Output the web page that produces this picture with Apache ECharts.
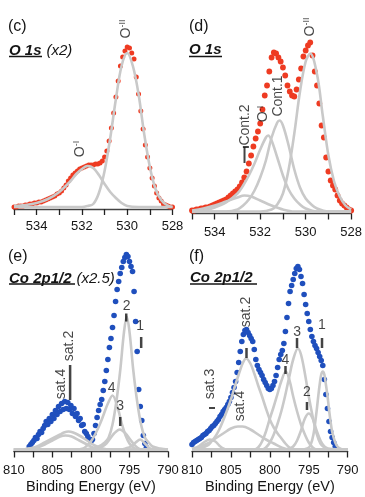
<!DOCTYPE html>
<html><head><meta charset="utf-8">
<script src="https://cdn.jsdelivr.net/npm/echarts@6/dist/echarts.min.js"></script>
<style>html,body{margin:0;padding:0;background:#fff}#c{width:365px;height:497px}</style>
</head><body><div id="c"></div>
<script>
const FONT = '"Liberation Sans", Arial, Helvetica, sans-serif';

// ---------- Panel (c): O 1s (x2) ----------
const cData = [[535.0,2],[534.9,2],[534.8,3],[534.7,3],[534.6,3],[534.5,4],[534.4,4],[534.3,5],[534.2,5],[534.1,6],[534.0,6],[533.9,7],[533.8,7],[533.7,8],[533.6,9],[533.5,10],[533.4,11],[533.3,12],[533.2,13],[533.1,15],[533.0,16],[532.9,18],[532.8,21],[532.7,24],[532.6,28],[532.5,31],[532.4,34],[532.3,36],[532.2,38],[532.1,40],[532.0,41],[531.9,42],[531.8,43],[531.7,44],[531.6,44],[531.5,44],[531.4,45],[531.3,45],[531.2,46],[531.1,48],[531.0,52],[530.9,58],[530.8,68],[530.7,81],[530.6,96],[530.5,112],[530.4,128],[530.3,143],[530.2,152],[530.1,158],[530.0,162],[529.9,161],[529.8,156],[529.7,150],[529.6,132],[529.5,115],[529.4,98],[529.3,80],[529.2,64],[529.1,52],[529.0,41],[528.9,31],[528.8,23],[528.7,16],[528.6,11],[528.5,8],[528.4,5],[528.3,4],[528.2,3],[528.1,2],[528.0,2]];
const cFitOII = [[535,2],[532.5,2],[532.0,2],[531.75,3],[531.5,5],[531.25,16],[531.0,38],[530.75,71],[530.5,110],[530.25,143],[530.0,156],[529.75,143],[529.5,115],[529.25,75],[529.0,42],[528.75,20],[528.5,9],[528.25,4],[528.0,2]];
const cFitOI = [[535,3],[534.5,4],[534.0,6],[533.5,10],[533.0,17],[532.5,28],[532.25,35],[532.0,40],[531.75,43],[531.5,41],[531.25,34],[531.0,25],[530.75,17],[530.5,11],[530.25,6],[530.0,3],[529.5,2],[528,2]];
const cLabels = [[530.05,180,'{o|O}{s|-II}',90],[532.08,60,'{o|O}{s|-I}',90]];
const cMarks = [];

// ---------- Panel (d): O 1s ----------
const dData = [[535.0,3],[534.9,3],[534.8,4],[534.7,4],[534.6,5],[534.5,5],[534.4,6],[534.3,6],[534.2,7],[534.1,8],[534.0,9],[533.9,10],[533.8,11],[533.7,12],[533.6,13],[533.5,14],[533.4,16],[533.3,18],[533.2,20],[533.1,22],[533.0,24],[532.9,27],[532.8,31],[532.7,36],[532.6,42],[532.5,50],[532.4,58],[532.3,67],[532.2,75],[532.1,82],[532.0,90],[531.9,104],[531.8,118],[531.7,128],[531.6,142],[531.5,156],[531.4,161],[531.3,160],[531.2,156],[531.1,152],[531.0,146],[530.9,138],[530.8,128],[530.7,122],[530.6,118],[530.5,117],[530.4,124],[530.3,134],[530.2,145],[530.1,157],[530.0,163],[529.9,168],[529.8,171],[529.7,158],[529.6,142],[529.5,128],[529.4,110],[529.3,88],[529.2,76],[529.1,56],[529.0,42],[528.9,33],[528.8,28],[528.7,24],[528.6,18],[528.5,13],[528.4,10],[528.3,8],[528.2,6],[528.1,4],[528.0,3]];
const dFitOII = [[535,2],[532,2],[531.5,4],[531.25,9],[531.0,20],[530.75,44],[530.5,80],[530.25,122],[530.0,152],[529.8,160],[529.5,139],[529.25,98],[529.0,58],[528.75,32],[528.5,17],[528.25,8],[528.0,4]];
const dFitCont1 = [[535,2],[533.5,2],[533.0,4],[532.75,8],[532.5,14],[532.25,23],[532.0,36],[531.75,53],[531.5,76],[531.25,91],[531.15,93],[531.0,88],[530.75,68],[530.5,44],[530.25,26],[530.0,15],[529.75,9],[529.5,5],[529.0,2],[528,2]];
const dFitOI = [[535,2],[534.5,3],[534.0,6],[533.5,11],[533.0,20],[532.75,28],[532.5,38],[532.25,50],[532.0,64],[531.75,76],[531.65,78],[531.5,73],[531.25,56],[531.0,38],[530.75,24],[530.5,15],[530.25,9],[530.0,5],[529.5,2],[528,2]];
const dFitCont2 = [[535,3],[534.5,5],[534.0,8],[533.5,12],[533.0,16],[532.7,18],[532.4,17],[532.0,13],[531.5,8],[531.0,4],[530.5,2],[528,2]];
const dLabels = [[529.79,186.5,'{o|O}{s|-II}',90],[531.19,117.5,'Cont.1',90],[531.85,99.5,'{o|O}{s|-I}',90],[532.66,88.5,'Cont.2',90]];
const dMarks = [[532.69,58.5,2,16],[532.63,66.5,6,2]];

// ---------- Panel (e): Co 2p1/2 (x2.5) ----------
const eData = [[808.0,5],[807.8,7],[807.6,9],[807.4,11],[807.2,14],[807.0,13],[806.8,17],[806.6,20],[806.4,19],[806.2,23],[806.0,26],[805.8,30],[805.6,27],[805.4,33],[805.2,30],[805.0,37],[804.8,33],[804.6,41],[804.4,37],[804.2,45],[804.0,40],[803.8,48],[803.6,42],[803.4,50],[803.2,43],[803.0,49],[802.8,42],[802.6,46],[802.4,38],[802.2,43],[802.0,35],[801.8,38],[801.6,31],[801.4,33],[801.2,26],[801.0,27],[800.8,20],[800.6,18],[800.4,15],[800.2,12],[800.0,10],[799.8,12],[799.6,18],[799.4,26],[799.2,34],[799.0,41],[798.8,47],[798.6,52],[798.4,61],[798.2,70],[798.0,81],[797.8,92],[797.6,104],[797.4,113],[797.2,124],[797.0,136],[796.8,150],[796.6,162],[796.4,170],[796.2,178],[796.0,184],[795.8,190],[795.6,194],[795.4,197],[795.2,195],[795.0,190],[794.8,185],[794.6,180],[794.4,160],[794.2,130],[794.0,100],[793.8,62],[793.6,45],[793.4,31],[793.2,16],[793.0,8],[792.8,4]];
const eFit2 = [[810,2],[801,2],[800,3],[799,5],[798.2,9],[797.7,14],[797.2,27],[796.7,50],[796.2,81],[795.7,120],[795.35,135],[795.0,120],[794.5,81],[794.0,50],[793.5,27],[793.0,14],[792.5,9],[792.0,5],[791,3],[790,2]];
const eFit4 = [[810,2],[802,2],[801,3],[800.5,6],[800,10],[799.4,18],[798.8,28],[798.3,38],[797.8,48],[797.2,56],[796.5,43],[796.0,28],[795.5,16],[795.0,8],[794.5,4],[794,2],[790,2]];
const eFit3 = [[810,2],[799.5,2],[799,3],[798.5,5],[798,8],[797.5,13],[797,18],[796.25,22],[795.5,18],[795,13],[794.5,8],[794,4],[793.5,2],[790,2]];
const eFit1 = [[810,2],[796,2],[795.5,3],[794.8,5],[794.2,9],[793.6,12],[793.0,8],[792.5,4],[792,2],[790,2]];
const eFitSat2 = [[810,2],[809,2],[808,3],[807,5],[806,9],[805,13],[804,17],[803.5,19],[802.9,20],[802.3,19],[801.5,16],[800.5,11],[799.5,6],[798.5,3],[797.5,2],[790,2]];
const eFitSat4 = [[810,2],[809,2],[808,3],[807,4],[806,7],[805,11],[804,15],[803.3,16],[802.5,15],[801.5,11],[800.5,7],[799.5,3],[798.5,2],[790,2]];
const eLabels = [[795.35,145.5,'2',0],[793.6,125.5,'1',0],[797.3,63.5,'4',0],[796.2,45,'3',0],[802.77,105.5,'sat.2',90],[803.87,67.5,'sat.4',90]];
const eMarks = [[795.42,134,2.5,8],[793.48,109,2.5,11],[796.2,30,2.5,9],[802.7,69,2.5,35]];

// ---------- Panel (f): Co 2p1/2 ----------
const fData = [[810.0,7],[809.8,9],[809.6,10],[809.4,11],[809.2,12],[809.0,13],[808.8,14],[808.6,16],[808.4,17],[808.2,18],[808.0,20],[807.8,21],[807.6,23],[807.4,25],[807.2,26],[807.0,28],[806.8,30],[806.6,32],[806.4,35],[806.2,37],[806.0,40],[805.8,42],[805.6,44],[805.4,47],[805.2,50],[805.0,54],[804.8,59],[804.6,64],[804.4,70],[804.2,79],[804.0,89],[803.8,100],[803.6,110],[803.4,117],[803.2,121],[803.0,122],[802.8,119],[802.6,116],[802.4,113],[802.2,110],[802.0,102],[801.8,92],[801.6,86],[801.4,82],[801.2,79],[801.0,76],[800.8,72],[800.6,69],[800.4,66],[800.2,63],[800.0,62],[799.8,63],[799.6,66],[799.4,70],[799.2,76],[799.0,84],[798.8,92],[798.6,97],[798.4,101],[798.2,108],[798.0,120],[797.8,134],[797.6,148],[797.4,160],[797.2,166],[797.0,172],[796.8,178],[796.6,183],[796.4,185],[796.2,182],[796.0,175],[795.8,168],[795.6,157],[795.4,147],[795.2,138],[795.0,130],[794.8,122],[794.6,115],[794.4,110],[794.2,106],[794.0,103],[793.8,99],[793.6,95],[793.4,91],[793.2,86],[793.0,72],[792.8,57],[792.6,43],[792.4,30],[792.2,20],[792.0,14],[791.8,9],[791.6,5]];
const fFit1 = [[810,2],[796,2],[795.2,3],[794.8,6],[794.4,17],[794.0,40],[793.8,54],[793.6,67],[793.4,77],[793.2,80],[793.0,77],[792.8,67],[792.6,56],[792.4,42],[792.2,30],[792.0,20],[791.6,9],[791.2,4],[790.5,2],[790,2]];
const fFit2 = [[810,2],[798,2],[797.5,3],[797.0,5],[796.5,11],[796.0,21],[795.5,33],[795.0,38],[794.5,33],[794.0,21],[793.5,11],[793.0,5],[792.5,3],[790,2]];
const fFit3 = [[810,2],[801,2],[800.5,4],[800,9],[799.5,17],[799,28],[798.5,41],[798,57],[797.5,75],[797,92],[796.4,103],[796,97],[795.5,78],[795,55],[794.5,35],[794,18],[793.5,8],[793,4],[792.5,2],[790,2]];
const fFit4 = [[810,2],[802,2],[801.5,4],[801,10],[800.5,20],[800,33],[799.5,45],[799,58],[798.5,71],[797.95,80],[797.5,72],[797,55],[796.5,40],[796,27],[795.5,17],[795,9],[794.5,4],[794,2],[790,2]];
const fFitSat2 = [[810,2],[809,3],[808,6],[807.5,10],[807,15],[806.5,22],[806,31],[805.5,41],[805,52],[804.5,65],[804,77],[803.5,88],[803.05,93],[802.5,88],[802,78],[801.5,66],[801,55],[800.5,43],[800,32],[799.5,24],[799,18],[798.5,13],[798,8],[797.5,4],[797,2],[790,2]];
const fFitSat4 = [[810,3],[809,5],[808,8],[807,13],[806,18],[805,23],[804.1,25],[803.5,25],[802.5,22],[801.5,17],[800.5,12],[799.5,8],[798.5,4],[797.5,2],[790,2]];
const fFitSat3 = [[810,2],[809.5,3],[809,6],[808.5,9],[807.7,12],[807,10],[806.5,6],[806,3],[805.5,2],[790,2]];
const fLabels = [[803.0,139.5,'sat.2',90],[796.51,119.5,'3',0],[793.3,126.5,'1',0],[797.99,91.5,'4',0],[795.23,59.5,'2',0],[807.7,67.5,'sat.3',90],[803.83,45.5,'sat.4',90]];
const fMarks = [[803.0,98.5,2.5,10],[796.51,108.5,2.5,10],[793.3,108.5,2.5,10],[797.99,81.5,2.5,8],[795.23,45.5,2.5,8],[807.43,43.5,6,2]];

// ---------- styling ----------
const RED = '#ee3b22', BLUE = '#1f4fbd', GRAY = '#c9c9c9', INK = '#151515';

const panels = [
  {grid:{left:14, right:192.5, top:9, bottom:288}, min:528, max:535, interval:1, major:2, margin:11, name:'',
   data:cData, color:RED, size:5, fits:[cFitOI,cFitOII], labels:cLabels, marks:cMarks},
  {grid:{left:192, right:13, top:13.5, bottom:283.5}, min:528, max:535, interval:1, major:2, margin:12.5, name:'',
   data:dData, color:RED, size:5.8, fits:[dFitCont2,dFitOI,dFitCont1,dFitOII], labels:dLabels, marks:dMarks},
  {grid:{left:13, right:197, top:251.5, bottom:45.5}, min:790, max:810, interval:2.5, major:5, margin:12, name:'Binding Energy (eV)',
   data:eData, color:BLUE, size:5.6, fits:[eFitSat4,eFitSat2,eFit1,eFit3,eFit4,eFit2], labels:eLabels, marks:eMarks},
  {grid:{left:192, right:17.3, top:251.5, bottom:45.5}, min:790, max:810, interval:2.5, major:5, margin:12, name:'Binding Energy (eV)',
   data:fData, color:BLUE, size:5.6, fits:[fFitSat3,fFitSat4,fFitSat2,fFit2,fFit1,fFit4,fFit3], labels:fLabels, marks:fMarks}
];

const grid = [], xAxis = [], yAxis = [], series = [];
panels.forEach((p, i) => {
  grid.push(p.grid);
  xAxis.push({
    gridIndex:i, type:'value', inverse:true, min:p.min, max:p.max, interval:p.interval,
    name:p.name, nameLocation:'middle', nameGap:28,
    nameTextStyle:{fontFamily:FONT, fontSize:14.5, color:INK},
    axisLine:{show:true, onZero:false, lineStyle:{color:'#444', width:1.3}},
    axisTick:{show:true, length:6, lineStyle:{color:'#222', width:1.3}},
    axisLabel:{margin:p.margin, fontFamily:FONT, fontSize:13, color:INK, showMinLabel:true, showMaxLabel:true,
      formatter: v => (Math.abs(v % p.major) < 1e-6 ? String(v) : '')},
    splitLine:{show:false}
  });
  yAxis.push({gridIndex:i, type:'value', min:0, max:200, show:false});
  series.push({
    type:'scatter', xAxisIndex:i, yAxisIndex:i, data:p.data, symbol:'circle', symbolSize:p.size,
    itemStyle:{color:p.color, opacity:1}, z:2, silent:true
  });
  p.fits.forEach(f => series.push({
    type:'line', xAxisIndex:i, yAxisIndex:i, data:f, showSymbol:false, symbol:'none',
    smooth:0.35, lineStyle:{color:GRAY, width:2.6}, z:3, silent:true
  }));
  series.push({
    type:'scatter', xAxisIndex:i, yAxisIndex:i, symbolSize:0, z:5, silent:true, clip:false,
    data:p.labels.map(l => ({value:[l[0], l[1]], label:{rotate:l[3], formatter:l[2]}})),
    label:{show:true, position:'inside', fontFamily:FONT, fontSize:14, color:INK,
      rich:{o:{fontFamily:FONT, fontSize:14, color:INK, lineHeight:16},
            s:{fontFamily:FONT, fontSize:9, color:INK, verticalAlign:'top', lineHeight:16}}}
  });
  series.push({
    type:'scatter', xAxisIndex:i, yAxisIndex:i, symbol:'rect', z:5, silent:true, clip:false,
    itemStyle:{color:INK},
    data:p.marks.map(m => ({value:[m[0], m[1]], symbolSize:[m[2], m[3]]}))
  });
});

const tStyle = {fontFamily:FONT, fontSize:16, fontWeight:'normal', color:INK};
const sub = {b:{fontFamily:FONT, fontSize:15, fontWeight:'bold', fontStyle:'italic', color:INK},
             i:{fontFamily:FONT, fontSize:15, fontWeight:'normal', fontStyle:'italic', color:INK}};
const title = [
  {text:'(c)', left:8, top:19, padding:0, textStyle:tStyle},
  {text:'{b|O 1s} {i|(x2)}', left:9, top:42, padding:0, textStyle:{fontWeight:'normal', rich:sub}},
  {text:'(d)', left:189, top:19, padding:0, textStyle:tStyle},
  {text:'{b|O 1s}', left:189, top:42, padding:0, textStyle:{fontWeight:'normal', rich:sub}},
  {text:'(e)', left:8, top:249, padding:0, textStyle:tStyle},
  {text:'{b|Co 2p1/2} {i|(x2.5)}', left:9, top:270, padding:0, textStyle:{fontWeight:'normal', rich:sub}},
  {text:'(f)', left:189, top:249, padding:0, textStyle:tStyle},
  {text:'{b|Co 2p1/2}', left:190, top:270, padding:0, textStyle:{fontWeight:'normal', rich:sub}}
];
const ul = (x1, x2, y) => ({type:'line', shape:{x1:x1, y1:y, x2:x2, y2:y}, style:{stroke:INK, lineWidth:1.5}, silent:true});
const graphic = [ul(9, 42, 56.5), ul(189, 222, 56.5), ul(9, 75, 284), ul(190, 257, 284)];

const chart = echarts.init(document.getElementById('c'), null, {renderer:'canvas'});
chart.setOption({animation:false, backgroundColor:'#fff', title, grid, xAxis, yAxis, series, graphic});
</script></body></html>
